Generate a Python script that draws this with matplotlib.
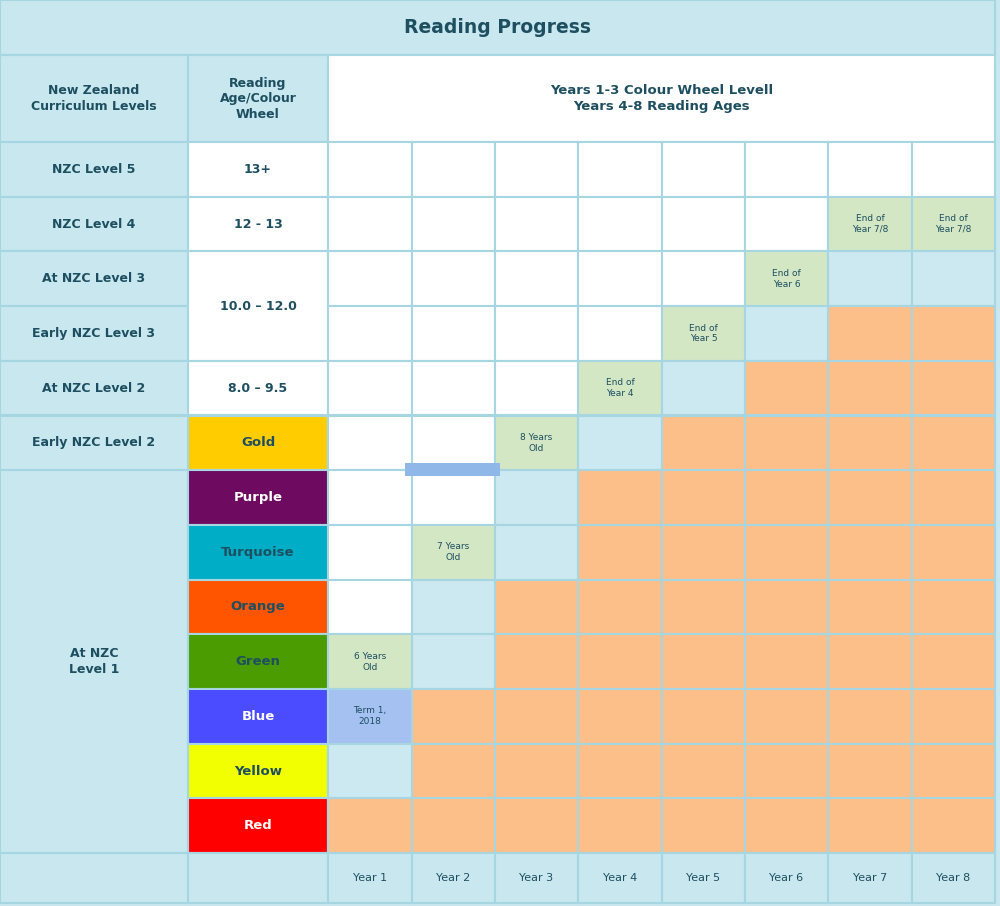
import matplotlib
matplotlib.use("Agg")
import matplotlib.pyplot as plt
from matplotlib.patches import Rectangle

title = "Reading Progress"
nzc_levels = ["NZC Level 5", "NZC Level 4", "At NZC Level 3", "Early NZC Level 3",
              "At NZC Level 2", "Early NZC Level 2"]
nzc_level1 = "At NZC\nLevel 1"
reading_ages = ["13+", "12 - 13", "10.0 – 12.0", None, "8.0 – 9.5"]
wheel_names = ["Gold", "Purple", "Turquoise", "Orange", "Green", "Blue", "Yellow", "Red"]
wheel_colors = ["#ffcc00", "#6e0a60", "#00adc6", "#ff5500", "#4a9c00", "#4b4bff", "#f2ff00", "#ff0000"]
wheel_text_white = [False, True, False, False, False, True, False, True]
years = ["Year 1", "Year 2", "Year 3", "Year 4", "Year 5", "Year 6", "Year 7", "Year 8"]
# per year: row of green milestone cell, its label, extra cells then light-blue count
green_rows = [9, 7, 5, 4, 3, 2, 1, 1]
green_labels = ["6 Years\nOld", "7 Years\nOld", "8 Years\nOld", "End of\nYear 4",
                "End of\nYear 5", "End of\nYear 6", "End of\nYear 7/8", "End of\nYear 7/8"]
term_label = "Term 1,\n2018"
term_col = 0
lightblue_counts = [1, 2, 2, 1, 1, 1, 1, 1]

TXT = "#1d4f60"; EDGE = "#a6d6e1"; BG = "#c8e7ef"
GREEN = "#d4e7c5"; ORANGE = "#fdbf8a"; LB = "#cce8f0"; TERM = "#a4c1f2"

fig = plt.figure(figsize=(10, 9.06), dpi=100)
ax = fig.add_axes([0, 0, 1, 1])
ax.set_xlim(0, 1000); ax.set_ylim(906, 0); ax.axis("off")
fig.patch.set_facecolor(BG)

cols = [0, 188, 328, 412, 495, 578, 662, 745, 828, 912, 995]
rows = [142 + i * 54.7 for i in range(14)]

def cell(x0, y0, x1, y1, fc, text=None, color=TXT, size=9, bold=True):
    ax.add_patch(Rectangle((x0, y0), x1 - x0, y1 - y0, facecolor=fc, edgecolor=EDGE, lw=1.5))
    if text:
        ax.text((x0 + x1) / 2, (y0 + y1) / 2, text, ha="center", va="center", color=color,
                fontsize=size, fontweight="bold" if bold else "normal", linespacing=1.25)

cell(0, 0, 995, 55, BG, title, size=13.5)
cell(0, 55, 188, 142, BG, "New Zealand\nCurriculum Levels", size=9)
cell(188, 55, 328, 142, BG, "Reading\nAge/Colour\nWheel", size=9)
cell(328, 55, 995, 142, "white", "Years 1-3 Colour Wheel Levell\nYears 4-8 Reading Ages", size=9.5)

for i, t in enumerate(nzc_levels):
    cell(0, rows[i], 188, rows[i + 1], BG, t, size=9)
cell(0, rows[6], 188, rows[13], BG, nzc_level1, size=9)

for i, t in enumerate(reading_ages):
    if t is None:
        continue
    y1 = rows[i + 2] if t == "10.0 – 12.0" else rows[i + 1]
    cell(188, rows[i], 328, y1, "white", t, size=9)
for k, (n, c, w) in enumerate(zip(wheel_names, wheel_colors, wheel_text_white)):
    cell(188, rows[5 + k], 328, rows[6 + k], c, n, color="white" if w else TXT, size=9.5)

for j in range(len(years)):
    g = green_rows[j]
    for r in range(13):
        x0, x1, y0, y1 = cols[j + 2], cols[j + 3], rows[r], rows[r + 1]
        extra = 1 if j == term_col else 0
        if r < g:
            cell(x0, y0, x1, y1, "white")
        elif r == g:
            cell(x0, y0, x1, y1, GREEN, green_labels[j], size=6.5, bold=False)
        elif extra and r == g + 1:
            cell(x0, y0, x1, y1, TERM, term_label, size=6.5, bold=False)
        elif r <= g + extra + lightblue_counts[j]:
            cell(x0, y0, x1, y1, LB)
        else:
            cell(x0, y0, x1, y1, ORANGE)

cell(0, rows[13], 188, 903, BG)
cell(188, rows[13], 328, 903, BG)
for j, y in enumerate(years):
    cell(cols[j + 2], rows[13], cols[j + 3], 903, BG, y, size=8, bold=False)

ax.add_patch(Rectangle((405, 463), 95, 13, facecolor="#8fb8e8", edgecolor="none"))

fig.savefig("out.png", dpi=100, facecolor=fig.get_facecolor())
